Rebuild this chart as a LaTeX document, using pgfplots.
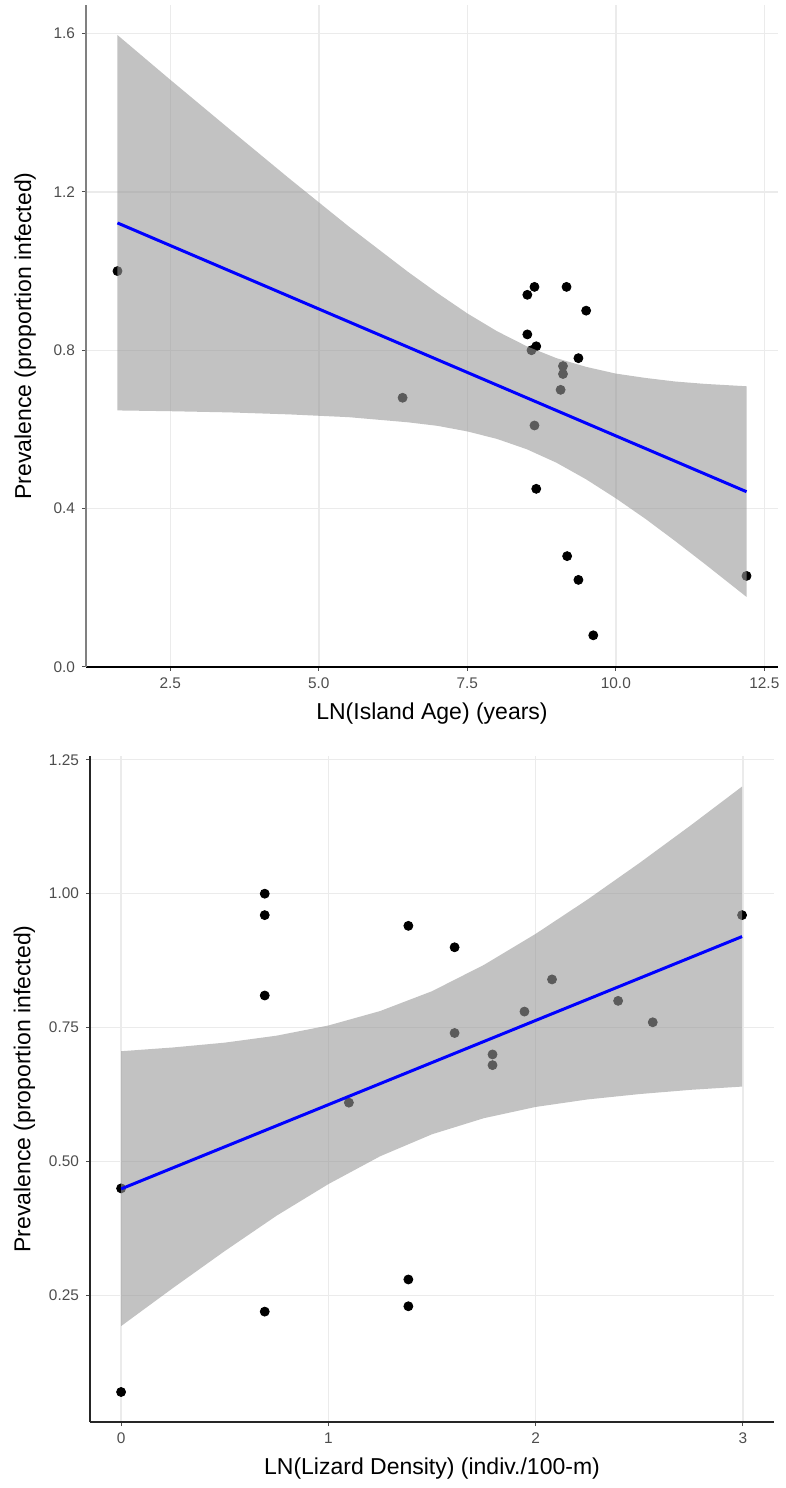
\documentclass[border=0pt]{standalone}
\usepackage{pgfplots}
\pgfplotsset{compat=1.18}
\usepackage{fontspec}
\setmainfont{Liberation Sans}
\definecolor{tickgray}{RGB}{77,77,77}
\definecolor{gridgray}{RGB}{235,235,235}
\definecolor{ribbon}{RGB}{153,153,153}

\pgfplotsset{
  panel/.style={
    scale only axis,
    clip marker paths=true,
    axis x line=bottom, axis y line=left,
    axis line style={-, line width=0.9pt, black!85},
    grid=major, grid style={gridgray, line width=0.7pt},
    tick align=outside, major tick length=2pt,
    tick style={tickgray, line width=0.5pt},
    ticklabel style={font=\fontsize{7.7}{9}\selectfont, text=tickgray},
    label style={font=\fontsize{11.5}{13}\selectfont},
  },
  pts/.style={only marks, mark=*, mark size=2.25pt, black},
  band/.style={draw=none, fill=ribbon, fill opacity=0.6},
  fit/.style={blue, line width=1.5pt, no marks},
}

\begin{document}
\begin{tikzpicture}
% island age panel
\begin{axis}[panel,
  at={(43pt,410.5pt)}, anchor=south west, width=346pt, height=331pt,
  xmin=1.08, xmax=12.73, ymin=0, ymax=1.672,
  xtick={2.5,5,7.5,10,12.5}, xticklabels={2.5,5.0,7.5,10.0,12.5},
  ytick={0,0.4,0.8,1.2,1.6}, yticklabels={0.0,0.4,0.8,1.2,1.6},
  x axis line style={line width=1pt, black},
  y axis line style={line width=1.2pt, black!50},
  xlabel={LN(Island Age) (years)},
  ylabel={Prevalence (proportion infected)},
  ylabel style={xshift=0pt, yshift=2pt},
]
\addplot[pts] coordinates {
  (1.61,1.00) (6.41,0.68)
  (8.63,0.96) (8.51,0.94) (9.17,0.96) (9.50,0.90) (8.51,0.84)
  (8.66,0.81) (8.58,0.80) (9.37,0.78) (9.11,0.76) (9.11,0.74)
  (9.07,0.70) (8.63,0.61) (8.66,0.45) (9.18,0.28) (9.37,0.22)
  (9.62,0.08) (12.20,0.23)
};
% confidence band: upper edge left to right, then lower edge back
\addplot[band] coordinates {
  (1.61,1.596) (2.5,1.483) (3.5,1.358) (4.5,1.234) (5.5,1.113)
  (6.5,0.998) (7.0,0.944) (7.5,0.893) (8.0,0.848) (8.5,0.810)
  (9.0,0.780) (9.5,0.758) (10.0,0.741) (10.5,0.730) (11.0,0.721)
  (11.5,0.715) (12.2,0.709)
  (12.2,0.177) (11.5,0.260) (11.0,0.318) (10.5,0.374) (10.0,0.426)
  (9.5,0.474) (9.0,0.516) (8.5,0.550) (8.0,0.576) (7.5,0.595)
  (7.0,0.609) (6.5,0.618) (5.5,0.631) (4.5,0.638) (3.5,0.643)
  (2.5,0.646) (1.61,0.648)
} -- cycle;
\addplot[fit] coordinates {(1.61,1.1215) (12.2,0.4427)};
\end{axis}

% lizard density panel
\begin{axis}[panel,
  at={(45pt,33pt)}, anchor=south west, width=342pt, height=333pt,
  xmin=-0.15, xmax=3.15, ymin=0.014, ymax=1.257,
  xtick={0,1,2,3}, xticklabels={0,1,2,3},
  ytick={0.25,0.5,0.75,1,1.25}, yticklabels={0.25,0.50,0.75,1.00,1.25},
  xlabel={LN(Lizard Density) (indiv./100-m)},
  ylabel={Prevalence (proportion infected)},
]
\addplot[pts] coordinates {
  (0.693,1.00) (0.693,0.96) (0.693,0.81) (0.693,0.22)
  (0,0.45) (0,0.07) (1.099,0.61)
  (1.386,0.94) (1.386,0.28) (1.386,0.23)
  (1.609,0.90) (1.609,0.74) (1.792,0.70) (1.792,0.68)
  (1.946,0.78) (2.079,0.84) (2.398,0.80) (2.565,0.76) (2.996,0.96)
};
\addplot[band] coordinates {
  (0,0.706) (0.25,0.713) (0.5,0.722) (0.75,0.735) (1.0,0.754)
  (1.25,0.781) (1.5,0.818) (1.75,0.867) (2.0,0.925) (2.25,0.989)
  (2.5,1.057) (2.75,1.128) (2.996,1.200)
  (2.996,0.640) (2.75,0.634) (2.5,0.626) (2.25,0.616) (2.0,0.602)
  (1.75,0.581) (1.5,0.551) (1.25,0.510) (1.0,0.458) (0.75,0.399)
  (0.5,0.333) (0.25,0.264) (0,0.193)
} -- cycle;
\addplot[fit] coordinates {(0,0.449) (2.996,0.920)};
\end{axis}
\path (0,0) rectangle (393pt,744pt);
\end{tikzpicture}
\end{document}
